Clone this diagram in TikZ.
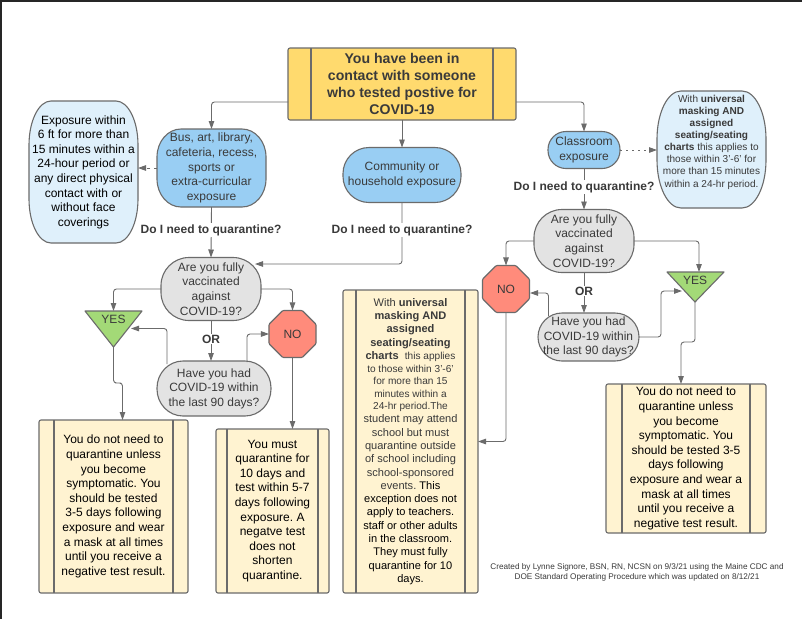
\documentclass[tikz,border=0pt]{standalone}
\usepackage{fontspec}
\setmainfont{Liberation Sans}
\usetikzlibrary{arrows.meta,shapes.geometric}
\AtBeginDocument{\frenchspacing}
\definecolor{stk}{HTML}{6B6B6B}
\definecolor{ink}{HTML}{3A3A3A}
\definecolor{cyel}{HTML}{FFDA6E}
\definecolor{cblue}{HTML}{99CEF3}
\definecolor{cpale}{HTML}{DFF0FB}
\definecolor{cgray}{HTML}{E3E3E3}
\definecolor{ccream}{HTML}{FFF3D1}
\definecolor{cgreen}{HTML}{A3D977}
\definecolor{cred}{HTML}{FF8B7B}
\tikzset{
  x=1pt,y=-1pt,
  softextra/.style={},
  outl/.style={draw=stk,line width=1.1pt},
  tx/.style={align=center,inner sep=0pt,outer sep=0pt,text=ink,font=\fontsize{12}{14.6}\selectfont},
  sbox/.style={outl,rounded corners=2pt,fill=ccream,minimum width=#1,inner sep=0pt,outer sep=0pt,align=center,text=black,font=\fontsize{12}{14.6}\selectfont},
  conn/.style={draw=stk,line width=0.9pt,rounded corners=3pt,-{Triangle[length=8pt,width=5.5pt]}},
  ask/.style={fill=white,inner sep=1pt,text=ink,font=\bfseries\fontsize{12}{14}\selectfont},
  octa/.style={outl,fill=cred,regular polygon,regular polygon sides=8,minimum size=50.9pt,inner sep=0pt,outer sep=0pt,rounded corners=1pt,text=ink,font=\fontsize{12}{14.6}\selectfont},
}
% #1 name, #2 fill, #3 cx, #4 cy, #5 w, #6 h, #7 rx, #8 ry, #9 text
\newcommand{\softbox}[9]{%
  \pgfmathsetmacro{\xa}{#3-#5/2}\pgfmathsetmacro{\xb}{#3+#5/2}%
  \pgfmathsetmacro{\ya}{#4-#6/2}\pgfmathsetmacro{\yb}{#4+#6/2}%
  \pgfmathsetmacro{\kx}{#7*0.448}\pgfmathsetmacro{\ky}{#8*0.448}%
  \draw[outl,fill=#2] ({\xa+#7},\ya) -- ({\xb-#7},\ya)
    .. controls ({\xb-\kx},\ya) and (\xb,{\ya+\ky}) .. (\xb,{\ya+#8})
    -- (\xb,{\yb-#8})
    .. controls (\xb,{\yb-\ky}) and ({\xb-\kx},\yb) .. ({\xb-#7},\yb)
    -- ({\xa+#7},\yb)
    .. controls ({\xa+\kx},\yb) and (\xa,{\yb-\ky}) .. (\xa,{\yb-#8})
    -- (\xa,{\ya+#8})
    .. controls (\xa,{\ya+\ky}) and ({\xa+\kx},\ya) .. ({\xa+#7},\ya) -- cycle;
  \node[tx,softextra,minimum width=#5,minimum height=#6] (#1) at (#3,#4) {#9};%
}
\begin{document}
\begin{tikzpicture}
\useasboundingbox (0,0) rectangle (802,619);
\fill[white] (0,0) rectangle (802,619);
\fill[black!85] (0,0) rectangle (802,2);
\fill[black!85] (0,0) rectangle (2,619);

% top box
\node[outl,rounded corners=2pt,fill=cyel,minimum width=228pt,minimum height=72pt,inner sep=0pt,outer sep=0pt,align=center,text=ink,font=\bfseries\fontsize{14.1}{17}\selectfont] (top) at (402,84)
 {You have been in\\contact with someone\\who tested postive for\\COVID-19};
\draw[outl] ([xshift=23pt]top.north west) -- ([xshift=23pt]top.south west);
\draw[outl] ([xshift=-23pt]top.north east) -- ([xshift=-23pt]top.south east);

% rounded nodes
\begin{scope}[softextra/.style={text=black}]
\softbox{expo}{cpale}{83.5}{172}{109}{142}{22}{44}{Exposure within\\6 ft for more than\\15 minutes within a\\24-hour period or\\any direct physical\\contact with or\\without face\\coverings}
\end{scope}
\softbox{bus}{cblue}{211.5}{168}{109}{78}{24}{28}{Bus, art, library,\\cafeteria, recess,\\sports or\\extra-curricular\\exposure}
\softbox{comm}{cblue}{402}{175}{118}{55}{26}{26}{Community or\\household exposure}
\softbox{class}{cblue}{584}{150}{72}{37}{18}{18}{Classroom\\exposure}
\begin{scope}[softextra/.style={font=\fontsize{10.05}{12.1}\selectfont}]
\softbox{note}{cpale}{711.5}{149.5}{109}{117}{24}{48}{With \textbf{universal}\\\textbf{masking AND}\\\textbf{assigned}\\\textbf{seating/seating}\\\textbf{charts} this applies to\\those within 3'-6' for\\more than 15 minutes\\within a 24-hr period.\\[4.8pt]\mbox{}}
\end{scope}
\softbox{vacA}{cgray}{211}{289}{100}{63}{28}{28}{Are you fully\\vaccinated\\against\\COVID-19?}
\softbox{vacB}{cgray}{584}{241}{100}{63}{28}{28}{Are you fully\\vaccinated\\against\\COVID-19?}
\softbox{hadA}{cgray}{214}{388.5}{114}{55}{26}{27}{Have you had\\COVID-19 within\\the last 90 days?}
\softbox{hadB}{cgray}{588.5}{337}{101}{48}{24}{24}{Have you had\\COVID-19 within\\the last 90 days?}

% triangles
\coordinate (yesAtop) at (113.5,311);
\coordinate (yesAtip) at (113.5,347);
\draw[outl,fill=cgreen,line join=round] (85,311) -- (142,311) -- (yesAtip) -- cycle;
\node[tx] (yesA) at (113.5,319.5) {YES};
\coordinate (yesBtop) at (699,272);
\coordinate (yesBtip) at (695,302);
\draw[outl,fill=cgreen,line join=round] (667,272) -- (724,272) -- (yesBtip) -- cycle;
\node[tx] (yesB) at (695,280) {YES};

% octagons
\node[octa] (noA) at (292.5,334) {NO};
\node[octa] (noB) at (506,289) {NO};

% outcome boxes
\node[sbox=149pt,minimum height=173pt] (outA) at (113.5,506.5)
 {You do not need to\\quarantine unless\\you become\\symptomatic. You\\should be tested\\3-5 days following\\exposure and wear\\a mask at all times\\until you receive a\\negative test result.};
\draw[outl] ([xshift=15pt]outA.north west) -- ([xshift=15pt]outA.south west);
\draw[outl] ([xshift=-15pt]outA.north east) -- ([xshift=-15pt]outA.south east);

\node[sbox=113pt,minimum height=164pt] (outN) at (272.5,511)
 {You must\\quarantine for\\10 days and\\test within 5-7\\days following\\exposure. A\\negatve test\\does not\\shorten\\quarantine.};
\draw[outl] ([xshift=11pt]outN.north west) -- ([xshift=11pt]outN.south west);
\draw[outl] ([xshift=-11pt]outN.north east) -- ([xshift=-11pt]outN.south east);

\node[sbox=135pt,minimum height=303pt,font=\fontsize{11.05}{13.3}\selectfont] (outM) at (410.5,441.5)
 {{\color{ink}With \textbf{universal}}\\{\color{ink}\textbf{masking AND}}\\{\color{ink}\textbf{assigned}}\\{\color{ink}\textbf{seating/seating}}\\{\color{ink}\textbf{charts}\ \ {\fontsize{10.1}{12}\selectfont this applies}}\\[-0.8pt]
 {\color{ink}\fontsize{10.1}{12}\selectfont to those within 3'-6'}\\[-0.8pt]
 {\color{ink}\fontsize{10.1}{12}\selectfont for more than 15}\\[-0.8pt]
 {\color{ink}\fontsize{10.1}{12}\selectfont minutes within a}\\[-0.8pt]
 {\color{ink}\fontsize{10.1}{12}\selectfont 24-hr period.The}\\
 {\color{ink}student may attend}\\{\color{ink}school but must}\\{\color{ink}quarantine outside}\\{\color{ink}of school including}\\{\color{ink}school-sponsored}\\{\color{ink}events.} This\\exception does not\\apply to teachers.\\staff or other adults\\in the classroom.\\They must fully\\quarantine for 10\\days.};
\draw[outl] ([xshift=13pt]outM.north west) -- ([xshift=13pt]outM.south west);
\draw[outl] ([xshift=-13pt]outM.north east) -- ([xshift=-13pt]outM.south east);

\node[sbox=160pt,minimum height=149pt] (outB) at (686,458.5)
 {You do not need to\\quarantine unless\\you become\\symptomatic. You\\should be tested 3-5\\days following\\exposure and wear a\\mask at all times\\until you receive a\\negative test result.};
\draw[outl] ([xshift=16pt]outB.north west) -- ([xshift=16pt]outB.south west);
\draw[outl] ([xshift=-16pt]outB.north east) -- ([xshift=-16pt]outB.south east);

% footer
\node[inner sep=0pt,align=center,text=ink,font=\fontsize{8.2}{9.9}\selectfont] (foot) at (637,572)
 {Created by Lynne Signore, BSN, RN, NCSN on 9/3/21 using the Maine CDC and\\DOE Standard Operating Procedure which was updated on 8/12/21};

% connector helpers
\coordinate (topL) at (288,102);
\coordinate (topR) at (516,102);
\coordinate (vacAin) at (255,264);
\coordinate (hadAl) at (167,364);
\coordinate (hadAlend) at (131,328.5);
\coordinate (hadAr) at (247,362);
\coordinate (jogA) at (118,383);
\coordinate (outAin) at (122.5,420);
\coordinate (hadBl) at (548.5,316);
\coordinate (hadBlend) at (530,293);
\coordinate (hadBrend) at (682,291);
\coordinate (hadBturn) at (661,314);
\coordinate (jogB) at (688,342);
\coordinate (outBin) at (681,384);

% connectors
\draw[conn] (topL) -| (bus.north);
\draw[conn] (top.south) -- (comm.north);
\draw[conn] (topR) -| (class.north);
\draw[conn,dash pattern=on 3pt off 4pt] (bus.west) -- (bus.west -| expo.east);
\draw[conn,dash pattern=on 1.5pt off 4.5pt] (class.east) -- (class.east -| note.west);
\draw[conn] (bus.south) -- (vacA.north);
\draw[conn] (comm.south) |- (vacAin);
\draw[conn] (vacA.west) -| (yesAtop);
\draw[conn] (vacA.east) -| (noA.north);
\draw[conn] (vacA.south) -- (vacA.south |- hadA.north);
\draw[conn] (hadAl) |- (hadAlend);
\draw[conn] (hadAr) |- (noA.west);
\draw[conn] (yesAtip) |- (jogA) -| (outAin);
\draw[conn] (noA.south) -- (noA.south |- outN.north);
\draw[conn] (class.south) -- (vacB.north);
\draw[conn] (vacB.west) -| (noB.north);
\draw[conn] (vacB.east) -| (yesBtop);
\draw[conn] (vacB.south) -- (vacB.south |- hadB.north);
\draw[conn] (hadBl) |- (hadBlend);
\draw[conn] (hadB.east) -| (hadBturn) |- (hadBrend);
\draw[conn] (yesBtip) |- (jogB) -| (outBin);
\draw[conn] (noB.south) |- (outM.east);

% question labels
\node[ask] (qA) at (211,230) {Do I need to quarantine?};
\node[ask] (qB) at (402,230) {Do I need to quarantine?};
\node[ask] (qC) at (584,187) {Do I need to quarantine?};
\node[ask] (orA) at (211,339) {OR};
\node[ask] (orB) at (584,291) {OR};
\end{tikzpicture}
\end{document}
